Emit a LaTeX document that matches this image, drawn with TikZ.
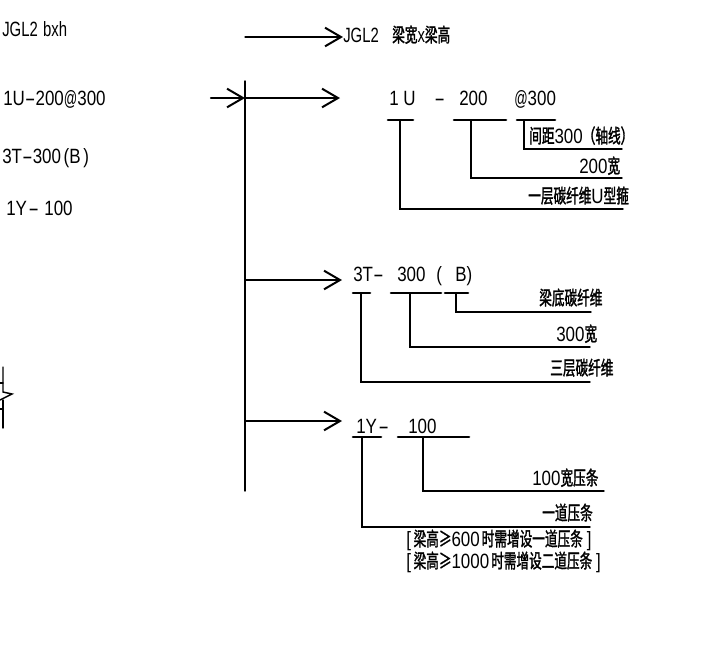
\documentclass[tikz,border=0pt]{standalone}
\usepackage{fontspec}
\usetikzlibrary{arrows.meta}
\setmainfont[FakeStretch=.82]{Liberation Sans}
\newfontfamily\cjk[FakeStretch=.65,FakeBold=1.5,Scale=.94]{Noto Sans CJK SC}
\newfontfamily\latn[FakeStretch=.72]{Liberation Sans}
\newcommand{\cadhy}{\scalebox{1.9}[1]{-}}
\newcommand{\cadat}{\scalebox{.78}[1]{@}}
\tikzset{
  lbl/.style={anchor=base west, inner sep=0pt, font=\fontsize{15.5}{16}\selectfont},
  lead/.style={line width=1.1pt, line join=miter},
  under/.style={line width=2pt},
  arr/.style={line width=1pt, -{Straight Barb[length=12pt, width=14pt, line width=1.5pt]}},
}
\begin{document}
\begin{tikzpicture}[x=0.75pt, y=-0.75pt, line cap=round]
  \useasboundingbox (0,0) rectangle (717,662);

  % left column
  \node[lbl] (lbeam) at (2,36) {\latn JGL2\hspace{4pt}bxh};
  \node[lbl] (lu) at (3,105) {1U\cadhy 200\cadat 300};
  \node[lbl] (lt) at (2,163) {3T\cadhy 300\hspace{2pt}(B\hspace{2pt})};
  \node[lbl] (ly) at (6,215) {1Y\hspace{1pt}\cadhy\hspace{4pt}100};

  % break mark
  \draw[lead] (3,367) -- (3,392) -- (12,394) -- (0,400);
  \draw[lead] (3,400) -- (3,428);
  \draw[lead] (0,383) -- (3,383);
  \draw[lead] (0,409) -- (3,409);

  % main bar
  \coordinate (bartop) at (245,81);
  \coordinate (barbot) at (245,491);
  \draw[lead] (bartop) -- (barbot);
  \coordinate (bar0) at (245,37);
  \coordinate (bar1) at (245,98);
  \coordinate (bar2) at (245,280);
  \coordinate (bar3) at (245,421);
  \coordinate (cut) at (211,98);
  \coordinate (ar1) at (340,98);
  \coordinate (ar2) at (342,280);
  \coordinate (ar3) at (342,421);

  \node[lbl] (beam) at (343,42) {\latn JGL2};
  \node[lbl] (beamcn) at (392,42) {{\cjk 梁宽}{\latn x}{\cjk 梁高}};
  \draw[arr] (bar0) -- (bar0 -| beam.west);
  \draw[arr, line width=1.6pt] (cut) -- (bar1);
  \draw[arr] (bar1) -- (ar1);
  \draw[arr] (bar2) -- (ar2);
  \draw[arr] (bar3) -- (ar3);

  % 1U row
  \node[lbl] (ua) at (389,105) {1 U};
  \node[lbl] (ub) at (434,105) {\cadhy};
  \node[lbl] (uc) at (459,105) {200};
  \node[lbl] (ud) at (514,105) {\cadat 300};
  \foreach \a/\b in {388/413, 454/506, 517/555}
    \draw[under] (\a,120) -- (\b,120);
  \coordinate (u1) at (400,120); \coordinate (u1e) at (623,209);
  \coordinate (u2) at (471,120); \coordinate (u2e) at (622,178);
  \coordinate (u3) at (524,120); \coordinate (u3e) at (622,149);
  \draw[lead] (u1) |- (u1e);
  \draw[lead] (u2) |- (u2e);
  \draw[lead] (u3) |- (u3e);
  \node[lbl] (utx3) at (529,143) {{\cjk 间距}300{\cjk （轴线）}};
  \node[lbl] (utx2) at (579,173) {200{\cjk 宽}};
  \node[lbl] (utx1) at (528,203) {{\cjk 一层碳纤维}U{\cjk 型箍}};

  % 3T row
  \node[lbl] (ta) at (353,281) {3T\cadhy};
  \node[lbl] (tb) at (397,281) {300};
  \node[lbl] (tc) at (436,281) {(};
  \node[lbl] (td) at (455,281) {B)};
  \foreach \a/\b in {353/370, 391/441, 445/468}
    \draw[under] (\a,293) -- (\b,293);
  \coordinate (t1) at (361,293); \coordinate (t1e) at (590,382);
  \coordinate (t2) at (410,293); \coordinate (t2e) at (590,347);
  \coordinate (t3) at (456,293); \coordinate (t3e) at (591,312);
  \draw[lead] (t1) |- (t1e);
  \draw[lead] (t2) |- (t2e);
  \draw[lead] (t3) |- (t3e);
  \node[lbl] (ttx3) at (539,305) {\cjk 梁底碳纤维};
  \node[lbl] (ttx2) at (556,341) {300{\cjk 宽}};
  \node[lbl] (ttx1) at (550,375) {\cjk 三层碳纤维};

  % 1Y row
  \node[lbl] (ya) at (356,433) {1Y\hspace{1pt}\cadhy};
  \node[lbl] (yb) at (408,433) {100};
  \foreach \a/\b in {353/381, 398/469}
    \draw[under] (\a,437) -- (\b,437);
  \coordinate (y1) at (362,437); \coordinate (y1e) at (590,527);
  \coordinate (y2) at (423,437); \coordinate (y2e) at (604,491);
  \draw[lead] (y1) |- (y1e);
  \draw[lead] (y2) |- (y2e);
  \node[lbl] (ytx2) at (532,485) {100{\cjk 宽压条}};
  \node[lbl] (ytx1) at (542,520) {\cjk 一道压条};
  \node[lbl] (yn1) at (406,546) {[\hspace{2pt}{\cjk 梁高≥}600\hspace{1.5pt}{\cjk 时需增设一道压条}\hspace{3pt}]};
  \node[lbl] (yn2) at (406,568) {[\hspace{2pt}{\cjk 梁高≥}1000\hspace{1.5pt}{\cjk 时需增设二道压条}\hspace{3pt}]};
\end{tikzpicture}
\end{document}
